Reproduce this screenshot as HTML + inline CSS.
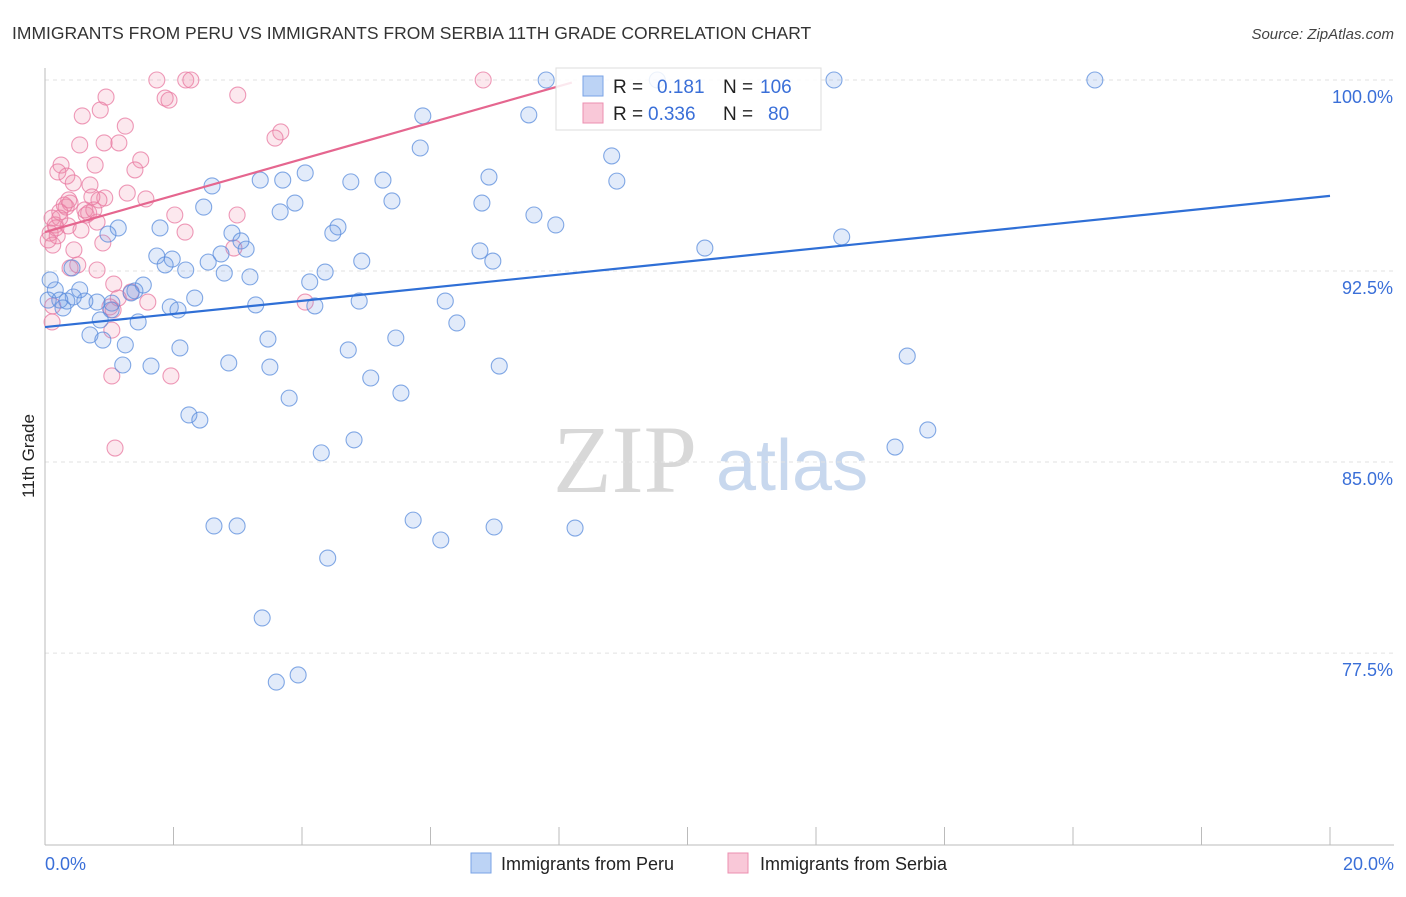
<!DOCTYPE html>
<html><head><meta charset="utf-8"><style>
body{margin:0;background:#fff;width:1406px;height:892px;overflow:hidden;font-family:"Liberation Sans",sans-serif}
svg text{font-family:"Liberation Sans",sans-serif}
</style></head><body>
<svg id="chart" width="1406" height="892" xmlns="http://www.w3.org/2000/svg">
<text x="12" y="39" font-size="17.5" fill="#333">IMMIGRANTS FROM PERU VS IMMIGRANTS FROM SERBIA 11TH GRADE CORRELATION CHART</text>
<text x="1394" y="39" font-size="15" fill="#444" text-anchor="end" font-style="italic">Source: ZipAtlas.com</text>
<text transform="translate(34,456) rotate(-90)" font-size="17" fill="#222" text-anchor="middle">11th Grade</text>
<g>
<text x="553" y="492" font-size="96" fill="#d8d8d8" font-family="Liberation Serif" style="font-family:'Liberation Serif',serif">ZIP</text>
<text x="716" y="490" font-size="72" fill="#c8d8ee">atlas</text>
</g>
<g id="grid"></g>
<g id="axes"></g>
<g id="pts"></g>
<g id="trends"></g>
<g>
<rect x="556" y="68" width="265" height="62" fill="#fff" fill-opacity="0.85" stroke="#ddd"/>
<rect x="583" y="76" width="20" height="20" fill="#bcd3f5" stroke="#7aa3e6"/>
<rect x="583" y="103" width="20" height="20" fill="#f9c8d8" stroke="#ec8fb0"/>
<text x="613" y="93" font-size="19" fill="#222">R = </text><text x="657" y="93" font-size="19" fill="#3a6fd8">0.181</text>
<text x="723" y="93" font-size="19" fill="#222">N = </text><text x="760" y="93" font-size="19" fill="#3a6fd8">106</text>
<text x="613" y="120" font-size="19" fill="#222">R = </text><text x="648" y="120" font-size="19" fill="#3a6fd8">0.336</text>
<text x="723" y="120" font-size="19" fill="#222">N = </text><text x="768" y="120" font-size="19" fill="#3a6fd8">80</text>
</g>
<g>
<rect x="471" y="853" width="20" height="20" fill="#bcd3f5" stroke="#7aa3e6"/>
<text x="501" y="870" font-size="18" fill="#222">Immigrants from Peru</text>
<rect x="728" y="853" width="20" height="20" fill="#f9c8d8" stroke="#ec8fb0"/>
<text x="760" y="870" font-size="18" fill="#222">Immigrants from Serbia</text>
</g>
</svg>
<script>
const peruX=[7.80,9.53,12.28,16.34,5.88,7.53,5.84,8.82,8.90,6.91,5.26,4.76,4.05,3.35,3.70,2.60,5.40,3.89,3.66,2.47,6.80,7.61,7.95,4.56,4.48,1.79,1.14,0.98,2.91,3.05,3.13,2.74,1.74,1.98,1.87,2.54,2.19,2.79,3.19,4.93,4.36,6.77,6.97,10.27,12.40,4.12,4.20,4.89,6.23,3.28,2.33,1.95,2.07,1.53,1.40,1.34,1.04,1.03,0.81,0.62,0.54,0.44,0.34,0.28,0.16,0.08,0.42,1.45,0.86,0.70,0.90,1.25,2.10,3.47,5.46,6.41,4.72,13.42,1.21,1.65,2.86,3.50,5.07,7.07,5.54,3.80,2.24,2.41,4.81,4.30,13.23,13.74,2.63,2.99,5.73,6.16,6.99,8.25,4.40,3.38,3.60,3.94,0.23,0.05];
const peruY=[100,100,100,100,98.59,98.63,97.33,97.02,96.03,96.19,96.07,96.0,96.35,96.07,96.07,95.84,95.25,95.17,94.82,95.01,95.17,94.70,94.31,94.23,93.99,94.19,94.19,93.95,93.99,93.68,93.36,93.17,93.09,92.97,92.74,92.85,92.54,92.42,92.27,92.89,92.46,93.29,92.89,93.40,93.84,92.07,91.13,91.32,91.32,91.17,91.44,91.09,90.97,91.95,91.72,91.64,91.24,90.97,91.28,91.32,91.76,91.48,91.32,91.05,91.76,92.15,92.62,90.50,90.58,89.99,89.79,89.60,89.48,89.83,89.87,90.46,89.40,89.16,88.81,88.77,88.89,88.73,88.30,88.77,87.71,87.51,86.85,86.65,85.87,85.36,85.59,86.26,82.49,82.49,82.72,81.94,82.45,82.41,81.23,78.88,76.36,76.64,91.36,91.36];
const serbX=[1.74,2.19,2.27,6.82,1.87,1.93,0.95,3.00,0.86,0.58,1.25,3.67,3.58,0.54,0.92,1.15,0.25,0.78,1.49,1.40,0.20,0.34,0.70,0.44,1.28,0.93,0.84,1.57,0.73,0.39,0.33,0.62,0.23,0.11,0.64,0.68,2.02,2.99,0.81,0.16,0.36,0.08,0.19,2.18,0.56,0.90,0.45,2.94,0.12,0.39,0.81,0.51,1.07,1.34,1.14,1.60,1.01,1.06,4.05,0.11,1.04,1.04,1.96,1.09,0.12,0.05,0.17,0.23,0.30,0.37,0.76];
const serbY=[100,100,100,100,99.29,99.21,99.33,99.41,98.82,98.59,98.19,97.96,97.72,97.45,97.53,97.53,96.66,96.66,96.86,96.47,96.39,96.23,95.88,95.96,95.56,95.37,95.29,95.33,95.41,95.17,95.01,94.90,94.82,94.58,94.70,94.78,94.70,94.70,94.42,94.31,94.27,93.99,93.88,94.03,94.11,93.60,93.33,93.40,93.52,92.62,92.54,92.74,91.99,91.68,91.44,91.28,91.09,90.97,91.28,90.50,90.18,88.38,88.38,85.55,91.13,93.72,94.19,94.58,95.09,95.29,94.90];
const peruTrend=[0,90.30,20,95.45];
const serbTrend=[0,94.03,8.2,99.9];
const yTicks=[100,92.5,85,77.5];
const yTickLabels=["100.0%","92.5%","85.0%","77.5%"];
const xTicks=[0,2,4,6,8,10,12,14,16,18,20];
const NS="http://www.w3.org/2000/svg";
const X=v=>45+v*64.25, Y=v=>80+(100-v)*25.47;
function mk(tag,attrs,parent){const e=document.createElementNS(NS,tag);for(const k in attrs)e.setAttribute(k,attrs[k]);parent.appendChild(e);return e;}
const grid=document.getElementById('grid'),axes=document.getElementById('axes'),pts=document.getElementById('pts'),tr=document.getElementById('trends');
yTicks.forEach((t,i)=>{
 const l=mk('line',{x1:45,x2:1394,y1:Y(t),y2:Y(t),stroke:'#e2e2e2','stroke-dasharray':'4,4'},grid);
 
 
 const tx=mk('text',{x:1393,y:Y(t)+23,'font-size':18,fill:'#3a6fd8','text-anchor':'end'},axes);
 tx.textContent=yTickLabels[i];
 
 
});
const yl=mk('line',{x1:45,x2:45,y1:68,y2:845,stroke:'#bbb'},axes);


const xl=mk('line',{x1:45,x2:1394,y1:845,y2:845,stroke:'#bbb'},axes);


xTicks.forEach(t=>{
 const l=mk('line',{x1:X(t),x2:X(t),y1:827,y2:845,stroke:'#bbb'},axes);
 
 
});
const x0=mk('text',{x:45,y:870,'font-size':18,fill:'#3a6fd8'},axes);x0.textContent='0.0%';


const x1=mk('text',{x:1394,y:870,'font-size':18,fill:'#3a6fd8','text-anchor':'end'},axes);x1.textContent='20.0%';


serbX.forEach((v,i)=>{
 const c=mk('circle',{cx:X(v),cy:Y(serbY[i]),r:8,fill:'rgba(240,140,170,0.2)',stroke:'rgba(232,120,160,0.75)','stroke-width':1.1},pts);
 
 
});
peruX.forEach((v,i)=>{
 const c=mk('circle',{cx:X(v),cy:Y(peruY[i]),r:8,fill:'rgba(110,155,230,0.2)',stroke:'rgba(90,140,220,0.75)','stroke-width':1.1},pts);
 
 
});
const bt=mk('line',{x1:X(peruTrend[0]),y1:Y(peruTrend[1]),x2:X(peruTrend[2]),y2:Y(peruTrend[3]),stroke:'#2f6fd6','stroke-width':2.2},tr);


const pt=mk('line',{x1:X(serbTrend[0]),y1:Y(serbTrend[1]),x2:X(serbTrend[2]),y2:Y(serbTrend[3]),stroke:'#e5668f','stroke-width':2.2},tr);


</script>
</body></html>
